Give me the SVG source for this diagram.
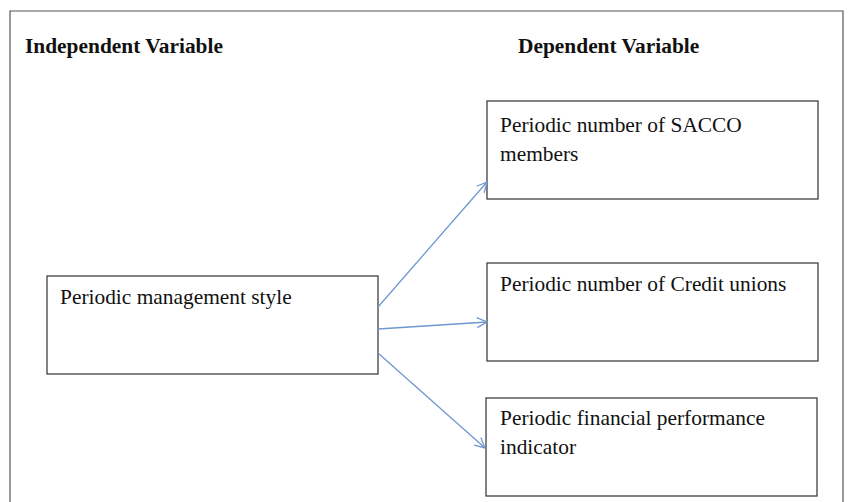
<svg xmlns="http://www.w3.org/2000/svg" width="849" height="502" viewBox="0 0 849 502">
<style>
.box{fill:#fff;stroke:#404040;stroke-width:1.3}
.t{font-family:'Liberation Serif',serif;font-size:21.4px;fill:#111}
.h{font-family:'Liberation Serif',serif;font-size:21.4px;font-weight:bold;fill:#111}
.c{stroke:#6f97cf;stroke-width:1.3;fill:none}
</style>
<defs>
<marker id="ah" viewBox="0 0 12 12" refX="11" refY="6" markerWidth="12" markerHeight="12" markerUnits="userSpaceOnUse" orient="auto">
<path d="M1,1 L11,6 L1,11" fill="none" stroke="#6f97cf" stroke-width="1.3"/>
</marker>
</defs>
<rect width="849" height="502" fill="#fff"/>
<path d="M10,503 V11 H843 V503" fill="none" stroke="#555" stroke-width="1.2"/>
<text class="h" x="25" y="53">Independent Variable</text>
<text class="h" x="518" y="53">Dependent Variable</text>
<g id="n0"><rect class="box" x="47" y="276" width="331" height="98"/><text class="t" x="60" y="304">Periodic management style</text></g>
<g id="n1"><rect class="box" x="487" y="101" width="331" height="98"/><text class="t" x="500" y="132">Periodic number of SACCO</text><text class="t" x="500" y="161">members</text></g>
<g id="n2"><rect class="box" x="487" y="263" width="331" height="98"/><text class="t" x="500" y="291">Periodic number of Credit unions</text></g>
<g id="n3"><rect class="box" x="486" y="398" width="331" height="98"/><text class="t" x="500" y="425">Periodic financial performance</text><text class="t" x="500" y="454">indicator</text></g>
<g id="connectors">
<line class="c" x1="378" y1="307" x2="487" y2="182" marker-end="url(#ah)"/>
<line class="c" x1="378" y1="329" x2="487" y2="322" marker-end="url(#ah)"/>
<line class="c" x1="378" y1="353" x2="485" y2="448" marker-end="url(#ah)"/>
</g>
</svg>
